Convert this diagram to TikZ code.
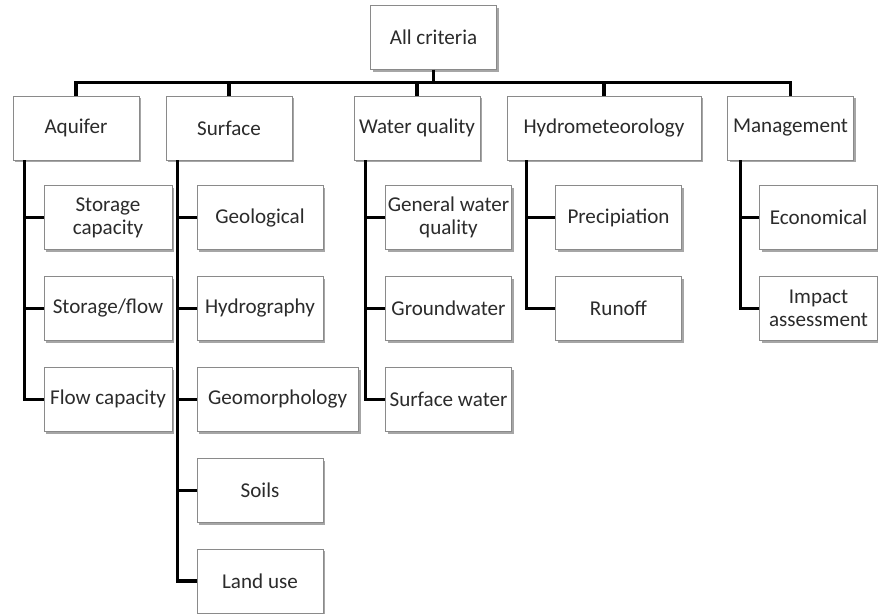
\documentclass[tikz,border=0pt]{standalone}
\usepackage{fontspec}
\setmainfont{Carlito}
\usetikzlibrary{positioning,shadows}
\definecolor{boxgray}{HTML}{8A8A8A}
\definecolor{txtgray}{HTML}{2B2B2B}

\begin{document}
\begin{tikzpicture}[x=0.025cm, y=-0.025cm, node distance=0.65cm,
  crit/.style={draw=boxgray, fill=white, line width=0.6pt,
    minimum width=3.15cm, minimum height=1.6cm, inner sep=1pt,
    align=center, text=txtgray, font=\fontsize{15}{16.5}\selectfont,
    drop shadow={shadow xshift=0.06cm, shadow yshift=-0.06cm, opacity=0.35, fill=black}},
  link/.style={line width=2.2pt, black}]
  \useasboundingbox (0,0) rectangle (878,613);

  % root and main groups
  \node[crit] (all) at (433.5,37.5) {All criteria};
  \node[crit] (aq) at (76,128) {Aquifer};
  \node[crit] (surf) at (229,128) {Surface};
  \node[crit] (wq) at (417,128) {Water quality};
  \node[crit, minimum width=4.85cm] (hyd) at (604,128) {Hydrometeorology};
  \node[crit] (man) at (790.5,128) {Management};

  % aquifer
  \node[crit, minimum width=3.2cm] (stc) at (108,217.5) {Storage\\capacity};
  \node[crit, minimum width=3.2cm, below=of stc] (stf) {Storage/flow};
  \node[crit, minimum width=3.2cm, below=of stf] (flc) {Flow capacity};

  % surface
  \node[crit] (geol) at (260,217.5) {Geological};
  \node[crit, below=of geol] (hgr) {Hydrography};
  \node[crit, minimum width=4.03cm, below=of hgr.south west, anchor=north west] (geom) {Geomorphology};
  \node[crit, below=of geom.south west, anchor=north west] (soil) {Soils};
  \node[crit, below=of soil] (land) {Land use};

  % water quality
  \node[crit] (gwq) at (448.5,217.5) {General water\\quality};
  \node[crit, below=of gwq] (grw) {Groundwater};
  \node[crit, below=of grw] (sfw) {Surface water};

  % hydrometeorology
  \node[crit] (prec) at (618.5,217.5) {Precipiation};
  \node[crit, below=of prec] (run) {Runoff};

  % management
  \node[crit, minimum width=2.93cm] (eco) at (818.5,217.5) {Economical};
  \node[crit, minimum width=2.93cm, below=of eco] (imp) {Impact\\assessment};

  % connectors
  \draw[link] (all.south) -- ++(0,13) coordinate (bus);
  \foreach \g in {aq,surf,wq,hyd,man}
    \draw[link] (bus) -| (\g.north);
  \foreach \c in {stc,stf,flc}
    \draw[link] ([xshift=0.3cm]aq.south west) |- (\c.west);
  \foreach \c in {geol,hgr,geom,soil,land}
    \draw[link] ([xshift=0.3cm]surf.south west) |- (\c.west);
  \foreach \c in {gwq,grw,sfw}
    \draw[link] ([xshift=0.3cm]wq.south west) |- (\c.west);
  \foreach \c in {prec,run}
    \draw[link] ([xshift=0.5cm]hyd.south west) |- (\c.west);
  \foreach \c in {eco,imp}
    \draw[link] ([xshift=0.33cm]man.south west) |- (\c.west);
\end{tikzpicture}
\end{document}
